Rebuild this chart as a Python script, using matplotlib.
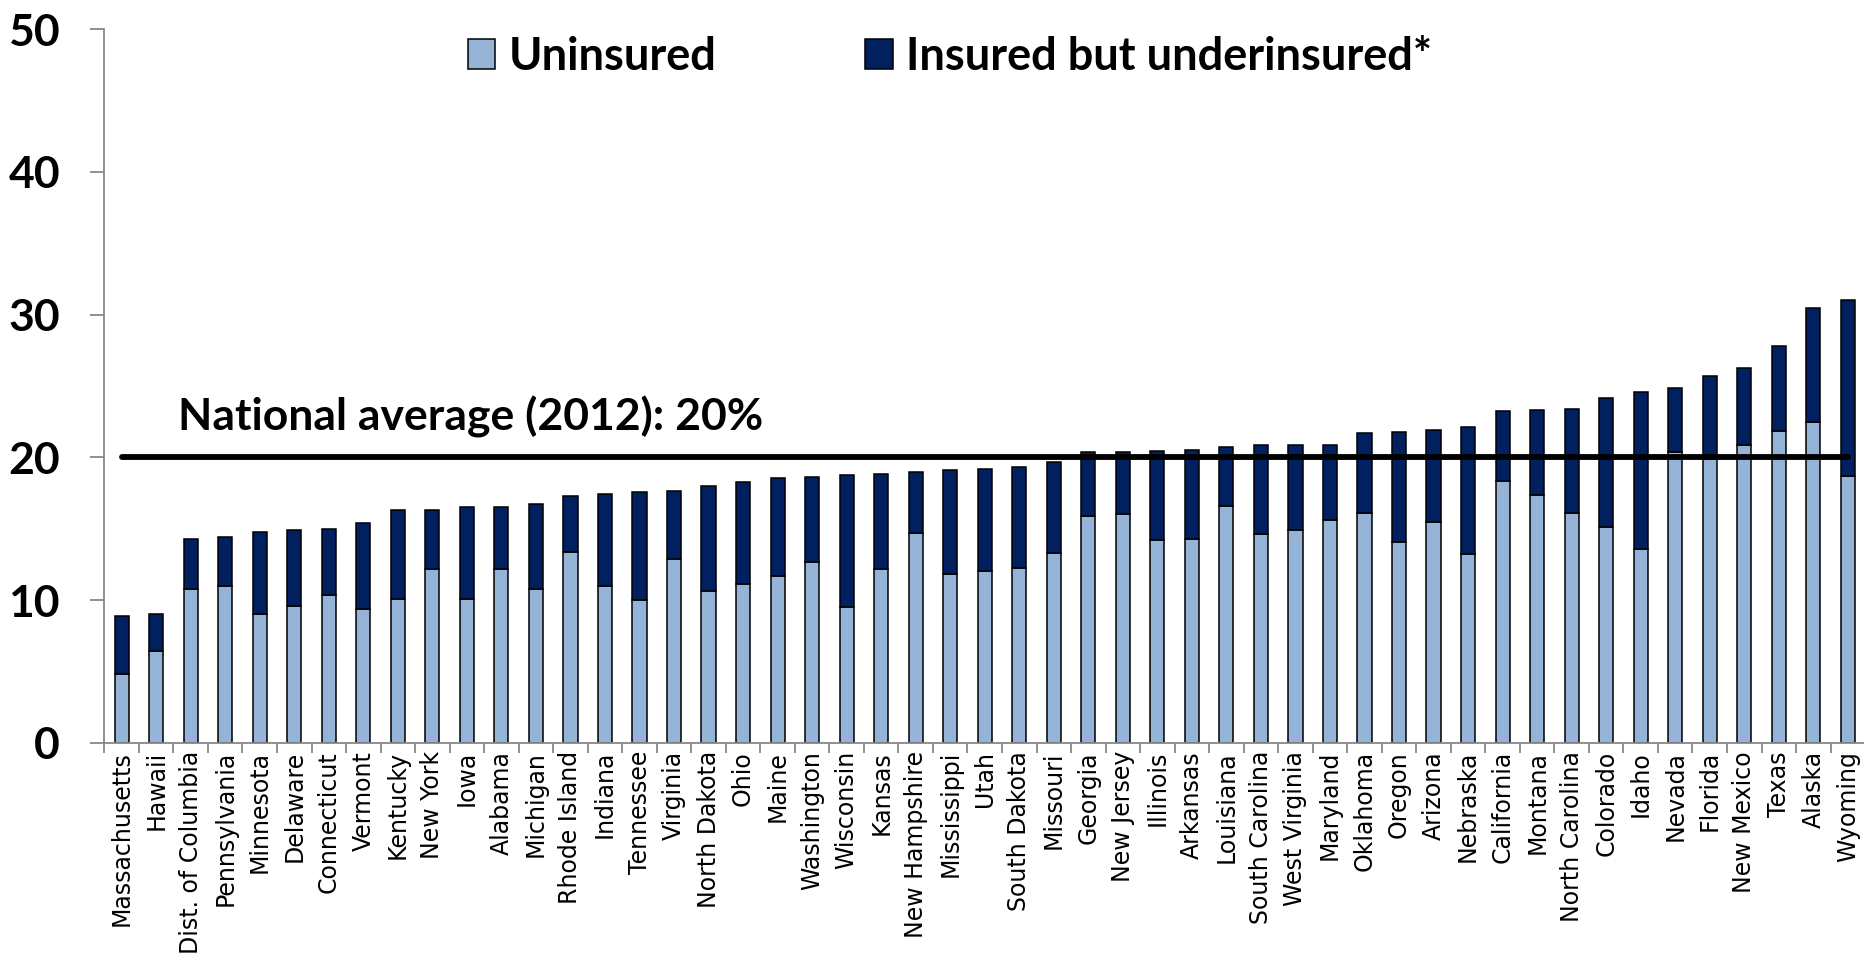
import numpy as np
import matplotlib
matplotlib.use("Agg")
import matplotlib.pyplot as plt

# 各州数据（从图上读取，单位 %）
states = ["Massachusetts", "Hawaii", "Dist. of Columbia", "Pennsylvania", "Minnesota",
          "Delaware", "Connecticut", "Vermont", "Kentucky", "New York", "Iowa", "Alabama",
          "Michigan", "Rhode Island", "Indiana", "Tennessee", "Virginia", "North Dakota",
          "Ohio", "Maine", "Washington", "Wisconsin", "Kansas", "New Hampshire",
          "Mississippi", "Utah", "South Dakota", "Missouri", "Georgia", "New Jersey",
          "Illinois", "Arkansas", "Louisiana", "South Carolina", "West Virginia",
          "Maryland", "Oklahoma", "Oregon", "Arizona", "Nebraska", "California",
          "Montana", "North Carolina", "Colorado", "Idaho", "Nevada", "Florida",
          "New Mexico", "Texas", "Alaska", "Wyoming"]

uninsured = [4.85, 6.4, 10.8, 10.95, 9.0, 9.6, 10.35, 9.4, 10.05, 12.2, 10.1, 12.2,
             10.75, 13.4, 10.95, 10.0, 12.85, 10.65, 11.1, 11.7, 12.65, 9.5, 12.15, 14.7,
             11.8, 12.05, 12.25, 13.3, 15.9, 16.0, 14.2, 14.3, 16.6, 14.65, 14.9,
             15.6, 16.1, 14.05, 15.45, 13.2, 18.35, 17.35, 16.1, 15.15, 13.6, 20.35,
             19.9, 20.85, 21.85, 22.5, 18.7]

underinsured = [4.0, 2.6, 3.5, 3.5, 5.75, 5.3, 4.65, 6.0, 6.25, 4.1, 6.4, 4.35,
                5.95, 3.9, 6.5, 7.55, 4.8, 7.35, 7.2, 6.85, 6.0, 9.25, 6.7, 4.3,
                7.3, 7.1, 7.05, 6.35, 4.5, 4.4, 6.25, 6.25, 4.15, 6.2, 6.0,
                5.3, 5.6, 7.7, 6.45, 8.95, 4.9, 6.0, 7.3, 9.0, 10.95, 4.5,
                5.8, 5.4, 5.95, 7.95, 12.3]

national_avg = 20
legend_labels = ["Uninsured", "Insured but underinsured*"]
yticks = [0, 10, 20, 30, 40, 50]

light = "#95B3D7"
dark = "#002060"
bold_font = ["Lato", "DejaVu Sans"]

fig = plt.figure(figsize=(18.64, 9.55), dpi=100)
ax = fig.add_axes([0.056, 0.2223, 0.9446, 0.747])

x = np.arange(len(states))
b1 = ax.bar(x, uninsured, width=0.41, color=light, edgecolor="black", linewidth=1.1,
            label=legend_labels[0])
b2 = ax.bar(x, underinsured, width=0.41, bottom=uninsured, color=dark, edgecolor="black",
            linewidth=1.1, label=legend_labels[1])

# 全国平均线
ax.plot([x[0], x[-1]], [national_avg, national_avg], color="black", linewidth=4.2,
        solid_capstyle="round", zorder=5)
ax.text(1.63, 21.9, "National average (2012): 20%", fontsize=32, fontweight="bold",
        family=bold_font, ha="left", va="baseline")

ax.set_xlim(-0.5, len(states) - 0.5)
ax.set_ylim(0, 50)
ax.set_yticks(yticks)
ax.set_yticklabels([str(v) for v in yticks], fontsize=32, fontweight="bold", family=bold_font)
ax.tick_params(axis="y", direction="out", length=10, width=1.3, color="#888888", pad=22)

ax.set_xticks(x)
ax.set_xticklabels(states, rotation=90, fontsize=17, family="DejaVu Sans")
ax.set_xticks(np.arange(-0.5, len(states), 1), minor=True)
ax.tick_params(axis="x", which="major", length=0, pad=6)
ax.tick_params(axis="x", which="minor", direction="out", length=7, width=1.3, color="#888888")

for s in ["top", "right"]:
    ax.spines[s].set_visible(False)
for s in ["left", "bottom"]:
    ax.spines[s].set_color("#888888")
    ax.spines[s].set_linewidth(1.3)

fig.legend(handles=[b1, b2], labels=legend_labels, loc="center left",
           bbox_to_anchor=(468 / 1864, 1 - 56.7 / 955), ncol=2, frameon=False,
           prop={"family": bold_font, "weight": "bold", "size": 32.5},
           handlelength=0.6, handleheight=0.65, handletextpad=0.3,
           columnspacing=3.3, borderpad=0, borderaxespad=0)

plt.savefig("out.png", dpi=100)
